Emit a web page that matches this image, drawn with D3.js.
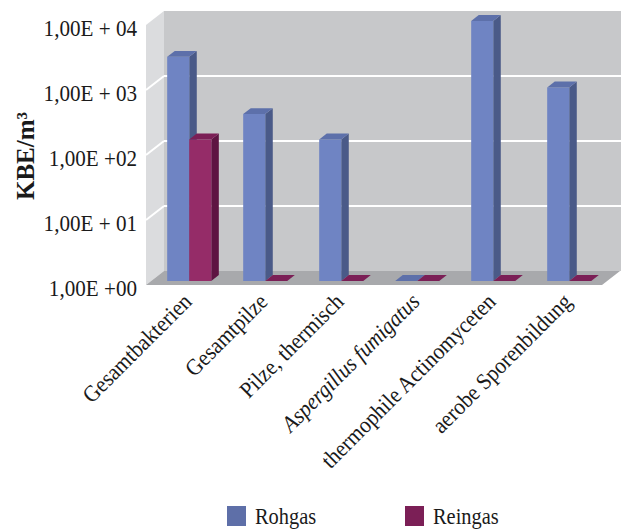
<!DOCTYPE html>
<html>
<head>
<meta charset="utf-8">
<script src="https://cdn.jsdelivr.net/npm/d3@7"></script>
<style>
  body { margin: 0; background: #fff; }
  text { font-family: "Liberation Serif", "DejaVu Serif", serif; fill: #1a1a1a; }
</style>
</head>
<body>
<script>
// data
var categories = ['Gesamtbakterien', 'Gesamtpilze', 'Pilze, thermisch', 'Aspergillus fumigatus', 'thermophile Actinomyceten', 'aerobe Sporenbildung'];
var series = ['Rohgas', 'Reingas'];
var rohgas = [2800, 370, 150, 0, 10000, 950];
var reingas = [150, 0, 0, 0, 0, 0];
var tickValues = [1, 10, 100, 1000, 10000];
var tickLabels = ['1,00E +00', '1,00E + 01', '1,00E +02', '1,00E + 03', '1,00E + 04'];

var colors = {
    Rohgas: {front: '#6f84c3', side: '#4a5a88', top: '#5d70aa', legend: '#5e6fa8'},
    Reingas: {front: '#952c68', side: '#5e1442', top: '#7b1f56', legend: '#7b1f56'}
};

var svg = d3.select('body').append('svg')
    .attr('width', 621)
    .attr('height', 530);

// depth of the 3d box
var DX = 18, DY = -14;
var zFront = 0.29, zBack = 0.71;

var y = d3.scaleLog().domain([1, 10000]).range([285, 25]);
var x = d3.scaleBand().domain(categories).range([146, 602])
    .paddingInner(0.42).paddingOuter(0.21);
var xs = d3.scaleBand().domain(series).range([0, x.bandwidth()]);

function proj(px, v, z) {
    return [px + z * DX, y(Math.max(v, 1)) + z * DY];
}
function pts(list) {
    return list.map(function(p) { return p.join(','); }).join(' ');
}

var x0 = x.range()[0], x1 = x.range()[1];

// walls
svg.append('polygon')
    .attr('points', pts([proj(x0, 10000, 0), proj(x0, 10000, 1), proj(x0, 1, 1), proj(x0, 1, 0)]))
    .attr('fill', '#dbdcde');
svg.append('polygon')
    .attr('points', pts([proj(x0, 10000, 1), [621, y(10000) + DY], [621, y(1) + DY], proj(x0, 1, 1)]))
    .attr('fill', '#c7c8ca');
svg.append('polygon')
    .attr('points', pts([proj(x0, 1, 0), proj(x1, 1, 0), proj(x1, 1, 1), proj(x0, 1, 1)]))
    .attr('fill', '#a8a9ac');

// gridlines
var grid = tickValues.filter(function(v) { return v > 1 && v < 10000; });
svg.selectAll('.gridBack').data(grid).enter().append('line')
    .attr('x1', proj(x0, 1, 1)[0])
    .attr('x2', 621)
    .attr('y1', function(v) { return proj(x0, v, 1)[1]; })
    .attr('y2', function(v) { return proj(x0, v, 1)[1]; })
    .attr('stroke', '#fff')
    .attr('stroke-width', 2);
svg.selectAll('.gridSide').data(grid).enter().append('line')
    .attr('x1', x0)
    .attr('x2', proj(x0, 1, 1)[0])
    .attr('y1', function(v) { return y(v); })
    .attr('y2', function(v) { return proj(x0, v, 1)[1]; })
    .attr('stroke', '#fff')
    .attr('stroke-width', 2);

// y tick labels
svg.selectAll('.tick').data(tickValues).enter().append('text')
    .attr('transform', function(v) { return 'translate(137,' + (y(v) + 3) + ') scale(0.88,1)'; })
    .attr('text-anchor', 'end')
    .attr('dominant-baseline', 'central')
    .attr('font-size', 24)
    .text(function(v, i) { return tickLabels[i]; });

// y title
svg.append('text')
    .attr('transform', 'translate(34,156) rotate(-90)')
    .attr('text-anchor', 'middle')
    .attr('font-size', 25)
    .attr('font-weight', 'bold')
    .text('KBE/m³');

// bars
var bars = [];
categories.forEach(function(c, i) {
    bars.push({cat: c, s: 'Rohgas', v: rohgas[i]});
    bars.push({cat: c, s: 'Reingas', v: reingas[i]});
});
var bw = xs.bandwidth();
bars.forEach(function(d) {
    var bx = x(d.cat) + xs(d.s);
    var col = colors[d.s];
    var g = svg.append('g');
    if (d.v > 1) {
        g.append('polygon')
            .attr('points', pts([proj(bx + bw, d.v, zFront), proj(bx + bw, d.v, zBack), proj(bx + bw, 1, zBack), proj(bx + bw, 1, zFront)]))
            .attr('fill', col.side);
        g.append('polygon')
            .attr('points', pts([proj(bx, d.v, zFront), proj(bx + bw, d.v, zFront), proj(bx + bw, 1, zFront), proj(bx, 1, zFront)]))
            .attr('fill', col.front);
    }
    g.append('polygon')
        .attr('points', pts([proj(bx, d.v, zFront), proj(bx + bw, d.v, zFront), proj(bx + bw, d.v, zBack), proj(bx, d.v, zBack)]))
        .attr('fill', col.top);
});

// category labels
svg.selectAll('.cat').data(categories).enter().append('text')
    .attr('transform', function(c) {
        return 'translate(' + (x(c) + x.bandwidth() / 2 + 9) + ',303) rotate(-45) scale(0.92,1)';
    })
    .attr('text-anchor', 'end')
    .attr('font-size', 23)
    .attr('font-style', function(c) { return c === 'Aspergillus fumigatus' ? 'italic' : 'normal'; })
    .text(function(c) { return c; });

// legend
var legendX = d3.scalePoint().domain(series).range([227, 405]);
var lg = svg.selectAll('.legend').data(series).enter().append('g')
    .attr('transform', function(s) { return 'translate(' + legendX(s) + ',506)'; });
lg.append('rect')
    .attr('width', 19)
    .attr('height', 20)
    .attr('fill', function(s) { return colors[s].legend; });
lg.append('text')
    .attr('transform', 'translate(28,18) scale(0.85,1)')
    .attr('font-size', 24)
    .text(function(s) { return s; });
</script>
</body>
</html>
